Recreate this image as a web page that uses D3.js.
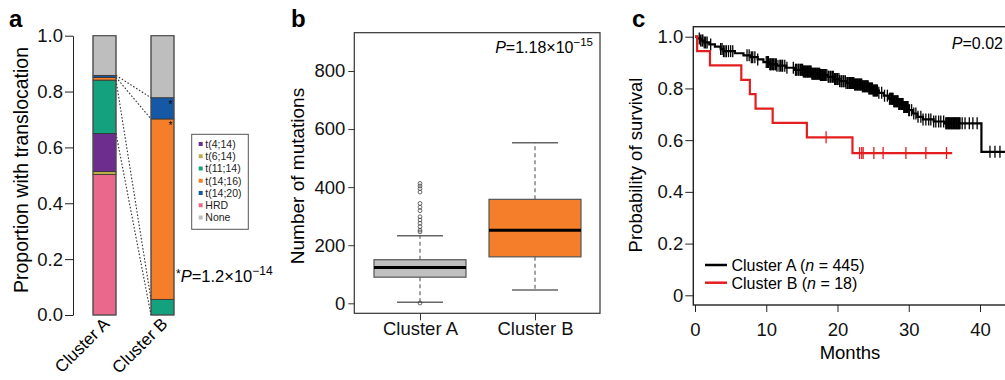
<!DOCTYPE html>
<html><head><meta charset="utf-8">
<script src="https://cdn.jsdelivr.net/npm/d3@7"></script>
<style>
body{margin:0;background:#fff;}
svg{display:block;font-family:"Liberation Sans",Arial,Helvetica,sans-serif;}
</style>
</head><body>
<svg id="chart" width="1005" height="380"></svg>
<script>
// ---------------- Panel a data ----------------
const categories = ["Cluster A", "Cluster B"];
const transTypes = ["HRD", "t(6;14)", "t(4;14)", "t(11;14)", "t(14;16)", "t(14;20)", "None"]; // bottom -> top
const legendOrder = ["t(4;14)", "t(6;14)", "t(11;14)", "t(14;16)", "t(14;20)", "HRD", "None"];
const propClusterA = [0.503, 0.011, 0.136, 0.191, 0.010, 0.007, 0.142];
const propClusterB = [0, 0, 0, 0.056, 0.646, 0.076, 0.222];
const propTicks = [0, 0.2, 0.4, 0.6, 0.8, 1.0];
const starredTypes = ["t(14;16)", "t(14;20)"];

// ---------------- Panel b data ----------------
const boxGroups = ["Cluster A", "Cluster B"];
const boxLowWhisker = [4, 46];
const boxQ1 = [90, 160];
const boxMedian = [123, 252];
const boxQ3 = [150, 358];
const boxHighWhisker = [233, 553];
const outliersA = [413, 404, 395, 383, 344, 331, 319, 298, 287, 276, 264, 252, 246, 1];
const outliersB = [];
const mutTicks = [0, 200, 400, 600, 800];

// ---------------- Panel c data ----------------
const kmTimesA = [0.3, 0.8, 1.3, 2.0, 2.8, 3.6, 4.0, 5.6, 6.8, 7.8, 8.8, 9.6, 10.4, 11.5, 12.8, 14.0, 15.2, 16.4, 17.6, 18.6, 19.5, 20.3, 21.2, 22.4, 23.5, 24.4, 25.0, 25.8, 26.5, 27.2, 27.9, 28.6, 29.3, 30.0, 30.6, 31.2, 32.0, 33.5, 35.0, 40.2];
const kmSurvA = [0.993, 0.985, 0.978, 0.970, 0.962, 0.952, 0.944, 0.936, 0.928, 0.921, 0.912, 0.902, 0.893, 0.888, 0.880, 0.872, 0.865, 0.857, 0.852, 0.845, 0.836, 0.828, 0.821, 0.815, 0.808, 0.800, 0.792, 0.783, 0.772, 0.760, 0.750, 0.740, 0.728, 0.716, 0.703, 0.690, 0.680, 0.672, 0.665, 0.555];
const censorA = [0.6, 0.8, 1.0, 1.1, 1.3, 1.5, 1.7, 2.2, 3.6, 3.8, 4.0, 4.2, 4.4, 4.7, 5.0, 5.3, 7.3, 7.6, 7.9, 8.1, 8.4, 8.8,
  10.0, 10.2, 10.3, 10.5, 10.6, 10.7, 10.9, 11.0, 11.1, 11.3, 11.4, 11.5, 11.8, 12.0, 12.2, 12.3, 12.6, 12.9,
  13.8, 14.1, 14.2, 14.3, 14.5, 14.6, 14.8, 14.9, 15.0, 15.1, 15.2, 15.3, 15.4, 15.5, 15.6, 15.7, 15.8, 15.9,
  16.0, 16.1, 16.2, 16.3, 16.4, 16.5, 16.6, 16.7, 16.8, 16.9, 17.0, 17.1, 17.2, 17.3, 17.4, 17.5, 17.6, 17.7,
  17.8, 17.9, 18.0, 18.1, 18.2, 18.3, 18.5, 18.7, 18.8, 19.0, 19.1, 19.3, 19.4, 19.6, 19.7, 19.9, 20.0, 20.2,
  20.3, 20.5, 20.6, 20.8, 20.9, 21.1, 21.2, 21.4, 21.5, 21.7, 21.8, 21.9, 22.0, 22.1, 22.2, 22.3, 22.4, 22.5,
  22.6, 22.7, 22.8, 22.9, 23.0, 23.1, 23.2, 23.3, 23.4, 23.5, 23.6, 23.7, 23.8, 23.9, 24.0, 24.1, 24.2, 24.3,
  24.4, 24.5, 24.6, 24.7, 24.8, 24.9, 25.0, 25.1, 25.2, 25.3, 25.4, 25.5, 25.6, 25.8, 26.2, 26.6, 27.0,
  27.3, 27.4, 27.5, 27.6, 27.7, 27.8, 27.9, 28.0, 28.1, 28.2, 28.3, 28.4, 28.5, 28.6, 28.7, 28.8, 28.9, 29.0,
  29.1, 29.2, 29.3, 29.4, 29.5, 29.6, 29.7, 29.8, 29.9, 30.0, 30.1, 30.4, 30.7, 31.0, 31.3, 31.7, 32.0, 32.4,
  32.8, 33.1, 33.5, 33.8, 34.2, 34.5, 34.9, 35.2, 35.3, 35.4, 35.5, 35.6, 35.7, 35.8, 35.9, 36.0, 36.1, 36.2,
  36.3, 36.4, 36.5, 36.6, 36.7, 36.8, 36.9, 37.0, 37.1, 37.2, 37.5, 37.9, 38.5, 39.0, 39.6, 41.4, 42.1, 42.8];
const kmTimesB = [0.3, 2.1, 6.5, 7.7, 8.5, 10.9, 15.7, 22.1];
const kmSurvB = [0.944, 0.889, 0.833, 0.778, 0.722, 0.667, 0.611, 0.550];
const censorB = [18.4, 23.1, 23.4, 23.6, 25.1, 26.4, 29.6, 32.4, 35.3];
const lastTimeA = 44.5;
const lastTimeB = 36.1;
const survGroups = ["Cluster A (n = 445)", "Cluster B (n = 18)"];
const monthTicks = [0, 10, 20, 30, 40];
const survTicks = [0, 0.2, 0.4, 0.6, 0.8, 1.0];

// =====================================================
const svg = d3.select("#chart");
const TICK_FS = 18.5;

function panelLabel(x, y, t) {
  svg.append("text").attr("x", x).attr("y", y).attr("font-size", 24).attr("font-weight", "bold").text(t);
}

// ---------------- Panel a ----------------
(function () {
  const ya = d3.scaleLinear().domain([0, 1]).range([315, 35.7]);
  const xa = d3.scalePoint().domain(categories).range([104.5, 162.5]);
  const barW = 23;
  const color = d3.scaleOrdinal()
    .domain(["t(4;14)", "t(6;14)", "t(11;14)", "t(14;16)", "t(14;20)", "HRD", "None"])
    .range(["#6c2d8f", "#bdae4c", "#13a27d", "#f47e2a", "#1558a6", "#e9698c", "#bebebe"]);

  const rows = categories.map((c, ci) => {
    const vals = ci === 0 ? propClusterA : propClusterB;
    const o = { cat: c };
    transTypes.forEach((t, i) => o[t] = vals[i]);
    return o;
  });
  const stacked = d3.stack().keys(transTypes)(rows);

  const g = svg.append("g");
  stacked.forEach(series => {
    series.forEach(d => {
      if (d[1] - d[0] <= 0) return;
      g.append("rect")
        .attr("x", xa(d.data.cat) - barW / 2)
        .attr("y", ya(d[1]))
        .attr("width", barW)
        .attr("height", ya(d[0]) - ya(d[1]))
        .attr("fill", color(series.key))
        .attr("stroke", "#333").attr("stroke-width", 0.8);
    });
  });
  categories.forEach(c => {
    g.append("rect").attr("x", xa(c) - barW / 2).attr("y", ya(1))
      .attr("width", barW).attr("height", ya(0) - ya(1))
      .attr("fill", "none").attr("stroke", "#555").attr("stroke-width", 1);
  });

  // dotted connectors between shared categories
  const seen = new Set();
  stacked.forEach(series => {
    if (series.key === "None") return;
    const a = series[0], b = series[1];
    if (a[1] - a[0] <= 0 || b[1] - b[0] <= 0) return;
    [[a[0], b[0]], [a[1], b[1]]].forEach(([va, vb]) => {
      const k = va.toFixed(4) + "_" + vb.toFixed(4);
      if (seen.has(k)) return;
      seen.add(k);
      g.append("line")
        .attr("x1", xa(categories[0]) + barW / 2).attr("y1", ya(va))
        .attr("x2", xa(categories[1]) - barW / 2).attr("y2", ya(vb))
        .attr("stroke", "#333").attr("stroke-width", 1.1).attr("stroke-dasharray", "1.6,1.8");
    });
  });

  // stars
  stacked.forEach(series => {
    if (!starredTypes.includes(series.key)) return;
    const b = series[1];
    g.append("text").attr("x", xa(categories[1]) + barW / 2 - 3.5).attr("y", ya(b[1]) + 10)
      .attr("text-anchor", "middle").attr("font-size", 10).text("*");
  });

  // axis
  const ax = g.append("g").attr("transform", "translate(73,0)")
    .call(d3.axisLeft(ya).tickValues(propTicks).tickFormat(d3.format(".1f")).tickSize(8).tickPadding(2).tickSizeOuter(0));
  ax.selectAll("text").attr("font-size", TICK_FS).attr("fill", "#111").attr("font-family", null);
  ax.select(".domain").attr("stroke", "#222");
  ax.selectAll(".tick line").attr("stroke", "#222");

  svg.append("text").attr("transform", "translate(27.5,170) rotate(-90)")
    .attr("text-anchor", "middle").attr("font-size", 19.5).text("Proportion with translocation");

  categories.forEach(c => {
    svg.append("text").attr("transform", `translate(${xa(c) + 6},${325}) rotate(-45)`)
      .attr("text-anchor", "end").attr("font-size", 17).text(c);
  });

  // legend
  const lg = svg.append("g");
  lg.append("rect").attr("x", 191.7).attr("y", 134.3).attr("width", 56.6).attr("height", 95)
    .attr("fill", "#fff").attr("stroke", "#555").attr("stroke-width", 1);
  legendOrder.forEach((t, i) => {
    const y = 144 + i * 12.25;
    lg.append("rect").attr("x", 198.7).attr("y", y - 2).attr("width", 4).attr("height", 4).attr("fill", color(t));
    lg.append("text").attr("x", 205.3).attr("y", y + 3.8).attr("font-size", 10.5).attr("fill", "#222").text(t);
  });

  const pt = svg.append("text").attr("x", 176).attr("y", 282).attr("font-size", 16.5);
  pt.append("tspan").attr("font-size", 12).attr("dy", -4).text("*");
  pt.append("tspan").attr("font-style", "italic").attr("dy", 4).text("P");
  pt.append("tspan").text("=1.2×10");
  pt.append("tspan").attr("font-size", 12).attr("dy", -7).text("−14");

  panelLabel(9, 27, "a");
})();

// ---------------- Panel b ----------------
(function () {
  const yb = d3.scaleLinear().domain([0, 800]).range([303.3, 71]);
  const xb = d3.scaleLinear().domain([1, 2]).range([420, 535]);
  const unit = xb(2) - xb(1);
  const bw = 0.8 * unit, capW = 0.4 * unit;
  const fills = ["#c0c0c0", "#f47e2a"];
  const g = svg.append("g");
  g.append("rect").attr("x", 354.3).attr("y", 32.7).attr("width", 600 - 354.3).attr("height", 313.3 - 32.7)
    .attr("fill", "none").attr("stroke", "#333").attr("stroke-width", 1.2);

  boxGroups.forEach((name, i) => {
    const cx = xb(i + 1);
    g.append("line").attr("x1", cx).attr("x2", cx).attr("y1", yb(boxQ3[i])).attr("y2", yb(boxHighWhisker[i]))
      .attr("stroke", "#666").attr("stroke-width", 1.2).attr("stroke-dasharray", "4,3");
    g.append("line").attr("x1", cx).attr("x2", cx).attr("y1", yb(boxQ1[i])).attr("y2", yb(boxLowWhisker[i]))
      .attr("stroke", "#666").attr("stroke-width", 1.2).attr("stroke-dasharray", "4,3");
    [boxHighWhisker[i], boxLowWhisker[i]].forEach(v => {
      g.append("line").attr("x1", cx - capW / 2).attr("x2", cx + capW / 2).attr("y1", yb(v)).attr("y2", yb(v))
        .attr("stroke", "#666").attr("stroke-width", 1.5);
    });
    g.append("rect").attr("x", cx - bw / 2).attr("y", yb(boxQ3[i])).attr("width", bw)
      .attr("height", yb(boxQ1[i]) - yb(boxQ3[i])).attr("fill", fills[i]).attr("stroke", "#555").attr("stroke-width", 1.2);
    g.append("line").attr("x1", cx - bw / 2).attr("x2", cx + bw / 2).attr("y1", yb(boxMedian[i])).attr("y2", yb(boxMedian[i]))
      .attr("stroke", "#000").attr("stroke-width", 3);
    const outs = i === 0 ? outliersA : outliersB;
    outs.forEach(v => {
      g.append("circle").attr("cx", cx).attr("cy", yb(v)).attr("r", 1.9)
        .attr("fill", "none").attr("stroke", "#444").attr("stroke-width", 0.8);
    });
  });

  const ax = g.append("g").attr("transform", "translate(354.3,0)")
    .call(d3.axisLeft(yb).tickValues(mutTicks).tickSize(6).tickPadding(3).tickSizeOuter(0));
  ax.select(".domain").remove();
  ax.selectAll("text").attr("font-size", TICK_FS).attr("fill", "#111").attr("font-family", null);
  ax.selectAll(".tick line").attr("stroke", "#333");

  const xbAx = g.append("g").attr("transform", "translate(0,313.3)")
    .call(d3.axisBottom(xb).tickValues([1, 2]).tickFormat((d, i) => boxGroups[i]).tickSize(7).tickPadding(2).tickSizeOuter(0));
  xbAx.select(".domain").remove();
  xbAx.selectAll("text").attr("font-size", TICK_FS).attr("fill", "#111").attr("font-family", null);
  xbAx.selectAll(".tick line").attr("stroke", "#333");

  svg.append("text").attr("transform", "translate(304,176) rotate(-90)")
    .attr("text-anchor", "middle").attr("font-size", 19).text("Number of mutations");

  const pt = svg.append("text").attr("x", 593).attr("y", 53).attr("text-anchor", "end").attr("font-size", 16);
  pt.append("tspan").attr("font-style", "italic").text("P");
  pt.append("tspan").text("=1.18×10");
  pt.append("tspan").attr("font-size", 11.5).attr("dy", -7).text("−15");

  panelLabel(291, 27, "b");
})();

// ---------------- Panel c ----------------
(function () {
  const xc = d3.scaleLinear().domain([0, 40]).range([695, 980]);
  const yc = d3.scaleLinear().domain([0, 1]).range([295.3, 36.7]);
  const g = svg.append("g");
  g.append("rect").attr("x", 693.3).attr("y", 26.7).attr("width", 400).attr("height", 305 - 26.7)
    .attr("fill", "none").attr("stroke", "#222").attr("stroke-width", 1.4);

  function series(times, surv, last) {
    const pts = [[0, 1]];
    times.forEach((t, i) => pts.push([t, surv[i]]));
    pts.push([last, surv[surv.length - 1]]);
    return pts;
  }
  function survAt(times, surv, t) {
    let s = 1;
    times.forEach((tt, i) => { if (tt <= t) s = surv[i]; });
    return s;
  }
  const line = d3.line().x(d => xc(d[0])).y(d => yc(d[1])).curve(d3.curveStepAfter);

  const groups = [
    { times: kmTimesA, surv: kmSurvA, cens: censorA, last: lastTimeA, col: "#000" },
    { times: kmTimesB, surv: kmSurvB, cens: censorB, last: lastTimeB, col: "#e41e1e" }
  ];
  groups.forEach(s => {
    g.append("path").attr("d", line(series(s.times, s.surv, s.last)))
      .attr("fill", "none").attr("stroke", s.col).attr("stroke-width", 2.2);
    s.cens.forEach(t => {
      const y = yc(survAt(s.times, s.surv, t));
      g.append("line").attr("x1", xc(t)).attr("x2", xc(t)).attr("y1", y - 6).attr("y2", y + 6)
        .attr("stroke", s.col).attr("stroke-width", 1.3);
    });
  });

  const ay = g.append("g").attr("transform", "translate(693.3,0)")
    .call(d3.axisLeft(yc).tickValues(survTicks).tickFormat(d => d === 0 ? "0" : d3.format(".1f")(d)).tickSize(8).tickPadding(2).tickSizeOuter(0));
  ay.select(".domain").remove();
  ay.selectAll("text").attr("font-size", TICK_FS).attr("fill", "#111").attr("font-family", null);
  ay.selectAll(".tick line").attr("stroke", "#222");

  const axb = g.append("g").attr("transform", "translate(0,305)")
    .call(d3.axisBottom(xc).tickValues(monthTicks).tickSize(7).tickPadding(11).tickSizeOuter(0));
  axb.select(".domain").remove();
  axb.selectAll("text").attr("font-size", TICK_FS).attr("fill", "#111").attr("font-family", null);
  axb.selectAll(".tick line").attr("stroke", "#222");

  svg.append("text").attr("x", 850).attr("y", 358.5).attr("text-anchor", "middle").attr("font-size", 18.5).text("Months");
  svg.append("text").attr("transform", "translate(641.5,165) rotate(-90)")
    .attr("text-anchor", "middle").attr("font-size", 18.5).text("Probability of survival");

  const cols = ["#000", "#e41e1e"];
  survGroups.forEach((lab, i) => {
    const y = 265 + i * 17.7;
    svg.append("line").attr("x1", 705).attr("x2", 727).attr("y1", y).attr("y2", y)
      .attr("stroke", cols[i]).attr("stroke-width", 2.5);
    const m = lab.match(/^(.*\()n( = .*)$/);
    const t = svg.append("text").attr("x", 731.5).attr("y", y + 5.8).attr("font-size", 16);
    t.append("tspan").text(m[1]);
    t.append("tspan").attr("font-style", "italic").text("n");
    t.append("tspan").text(m[2]);
  });

  const pt = svg.append("text").attr("x", 1003).attr("y", 48.5).attr("text-anchor", "end").attr("font-size", 16);
  pt.append("tspan").attr("font-style", "italic").text("P");
  pt.append("tspan").text("=0.02");

  panelLabel(632, 27, "c");
})();
</script>
</body></html>
